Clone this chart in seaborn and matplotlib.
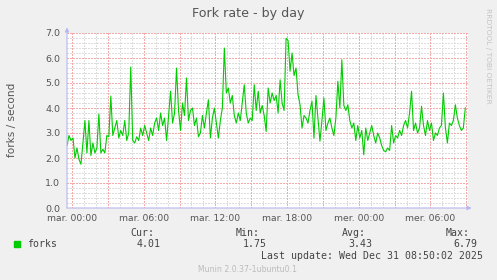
import numpy as np
import pandas as pd
import matplotlib
matplotlib.use("Agg")
import matplotlib.pyplot as plt
import seaborn as sns

# ---- data -------------------------------------------------------------
start_hour = -25 / 60.0          # first sample (Mon 23:35), hours relative to Tue 00:00
step_hour = 10 / 60.0            # 10-minute samples
forks = [
    2.5, 2.9, 2.7, 2.8, 2.0, 2.4, 1.95, 1.75, 2.6, 3.5,
    2.2, 3.5, 2.1, 2.6, 2.2, 2.4, 3.76, 2.2, 2.35, 2.2,
    2.9, 2.85, 4.48, 2.9, 3.2, 3.5, 2.8, 3.1, 2.9, 3.5,
    2.7, 3.0, 5.64, 2.7, 2.6, 2.85, 2.7, 3.2, 2.9, 3.3,
    3.0, 2.7, 3.2, 2.9, 3.4, 3.6, 3.1, 3.8, 3.3, 3.6,
    2.7, 3.7, 4.67, 3.4, 3.8, 5.6, 3.9, 3.1, 4.2, 3.7,
    5.2, 3.5, 3.9, 4.0, 3.3, 3.6, 2.85, 3.0, 3.7, 3.2,
    3.8, 4.33, 2.8, 3.6, 4.0, 3.4, 2.8, 3.5, 4.0, 6.4,
    4.6, 4.8, 4.2, 4.5, 3.7, 3.4, 3.8, 3.5, 4.2, 4.93,
    3.8, 3.4, 3.6, 3.5, 4.93, 3.9, 4.67, 3.8, 4.1, 3.7,
    3.06, 4.8, 4.2, 4.6, 4.3, 4.5, 3.8, 5.13, 4.2, 3.9,
    6.79, 6.7, 5.47, 6.2, 5.3, 5.6, 4.53, 4.13, 3.2, 3.7,
    3.6, 3.4, 3.9, 4.27, 2.8, 4.5, 3.6, 2.67, 3.5, 4.4,
    3.1, 3.4, 3.6, 3.2, 2.9, 3.6, 5.07, 4.0, 5.93, 4.1,
    3.9, 4.13, 3.5, 3.2, 3.4, 2.7, 3.3, 2.8, 3.1, 2.13,
    3.2, 2.7, 3.0, 3.3, 2.9, 2.6, 3.0, 2.8, 2.5, 2.3,
    2.25, 2.4, 2.3, 3.3, 2.6, 2.9, 2.8, 3.1, 2.9, 3.3,
    3.5, 3.2, 3.8, 4.67, 3.1, 3.4, 3.0, 3.2, 4.07, 3.3,
    2.9, 3.5, 3.1, 3.4, 2.7, 3.0, 2.9, 3.2, 3.3, 4.6,
    3.2, 2.6, 3.4, 3.3, 3.5, 4.13, 3.6, 3.3, 3.1, 3.2,
    4.01,
]
xtick_hours = [0, 6, 12, 18, 24, 30]
xtick_labels = ["mar. 00:00", "mar. 06:00", "mar. 12:00",
                "mar. 18:00", "mer. 00:00", "mer. 06:00"]
ytick_values = [0, 1, 2, 3, 4, 5, 6, 7]
ytick_labels = ["0.0", "1.0", "2.0", "3.0", "4.0", "5.0", "6.0", "7.0"]
series_name = "forks"
stat_names = ["Cur:", "Min:", "Avg:", "Max:"]
stat_values = ["4.01", "1.75", "3.43", "6.79"]
title = "Fork rate - by day"
ylabel = "forks / second"
last_update = "Last update: Wed Dec 31 08:50:02 2025"
footer = "Munin 2.0.37-1ubuntu0.1"
watermark = "RRDTOOL / TOBI OETIKER"

hours = start_hour + np.arange(len(forks)) * step_hour
df = pd.DataFrame({"hour": hours, "forks": forks})

# ---- figure -----------------------------------------------------------
sns.set_style("white")
plt.rcParams["font.family"] = ["DejaVu Sans"]

W, H = 497, 280
fig = plt.figure(figsize=(W / 100, H / 100), dpi=100)
fig.patch.set_facecolor("#F0F0F0")
ax = fig.add_axes([67 / W, 72 / H, 401 / W, 175 / H])
ax.set_facecolor("#FFFFFF")

xmin, xmax = start_hour, 33.14
ymin, ymax = 0.0, 7.0
ax.set_xlim(xmin, xmax)
ax.set_ylim(ymin, ymax)

grid_c = "#DDDDDD"
mgrid_c = "#F2AAAA"
dot = (0, (1, 1.4))
gkw = dict(lw=0.75, ls=dot, zorder=1, antialiased=False)
# minor grid
for h in range(0, 34):
    if h % 3 != 0:
        ax.axvline(h, color=grid_c, **gkw)
for v in np.arange(0, 7.01, 0.2):
    if abs(v - round(v)) > 1e-6:
        ax.axhline(v, color=grid_c, **gkw)
# major grid
for h in range(0, 34, 3):
    ax.axvline(h, color=mgrid_c, **gkw)
for v in range(1, 8):
    ax.axhline(v, color=mgrid_c, **gkw)

sns.lineplot(data=df, x="hour", y="forks", ax=ax, color="#00CC00",
             lw=0.8, zorder=3, legend=False)

for s in ax.spines.values():
    s.set_visible(False)

axis_c = "#B8B8EE"
ax.annotate("", xy=(0, 1.032), xytext=(0, 0), xycoords="axes fraction",
            arrowprops=dict(arrowstyle="-|>", color=axis_c, lw=0.8,
                            mutation_scale=6, shrinkA=0, shrinkB=0),
            annotation_clip=False)
ax.annotate("", xy=(1.009, 0), xytext=(0, 0), xycoords="axes fraction",
            arrowprops=dict(arrowstyle="-|>", color=axis_c, lw=0.8,
                            mutation_scale=6, shrinkA=0, shrinkB=0),
            annotation_clip=False)

text_c = "#555555"
ax.set_xticks(xtick_hours)
ax.set_xticklabels(xtick_labels, fontsize=6.7, color=text_c)
ax.set_yticks(ytick_values)
ax.set_yticklabels(ytick_labels, fontsize=6.8, color=text_c)
ax.tick_params(axis="x", length=0, pad=4.5)
ax.tick_params(axis="y", length=0, pad=5)
ax.set_xlabel("")
ax.set_ylabel("")

fig.text(248.5 / W, 1 - 13 / H, title, ha="center", va="center",
         fontsize=9.1, color=text_c)
fig.text(12 / W, 1 - 120 / H, ylabel, ha="center", va="center",
         rotation=90, fontsize=7.6, color=text_c)
fig.text(488 / W, 1 - 56 / H, watermark, ha="center", va="center",
         rotation=270, fontsize=5.4, color="#C4C4C4")

mono = "DejaVu Sans Mono"
fs = 7.1
legend_c = "#444444"
fig.patches.append(plt.Rectangle((14 / W, 1 - 247 / H), 6 / W, 6 / H,
                                 transform=fig.transFigure,
                                 color="#00CC00", zorder=5))
fig.text(27 / W, 1 - 244 / H, series_name, ha="left", va="center",
         family=mono, fontsize=fs, color=legend_c)
name_right = [154, 260, 366, 470]
val_right = [161, 267, 372, 477]
for nm, vr, nr, vv in zip(stat_names, val_right, name_right, stat_values):
    fig.text(nr / W, 1 - 233 / H, nm, ha="right", va="center",
             family=mono, fontsize=fs, color=legend_c)
    fig.text(vr / W, 1 - 244 / H, vv, ha="right", va="center",
             family=mono, fontsize=fs, color=legend_c)
fig.text(483 / W, 1 - 256 / H, last_update, ha="right", va="center",
         family=mono, fontsize=fs, color=legend_c)
fig.text(248 / W, 1 - 269 / H, footer, ha="center", va="center",
         fontsize=5.6, color="#BBBBBB")

fig.savefig("out.png", dpi=100, facecolor=fig.get_facecolor())
